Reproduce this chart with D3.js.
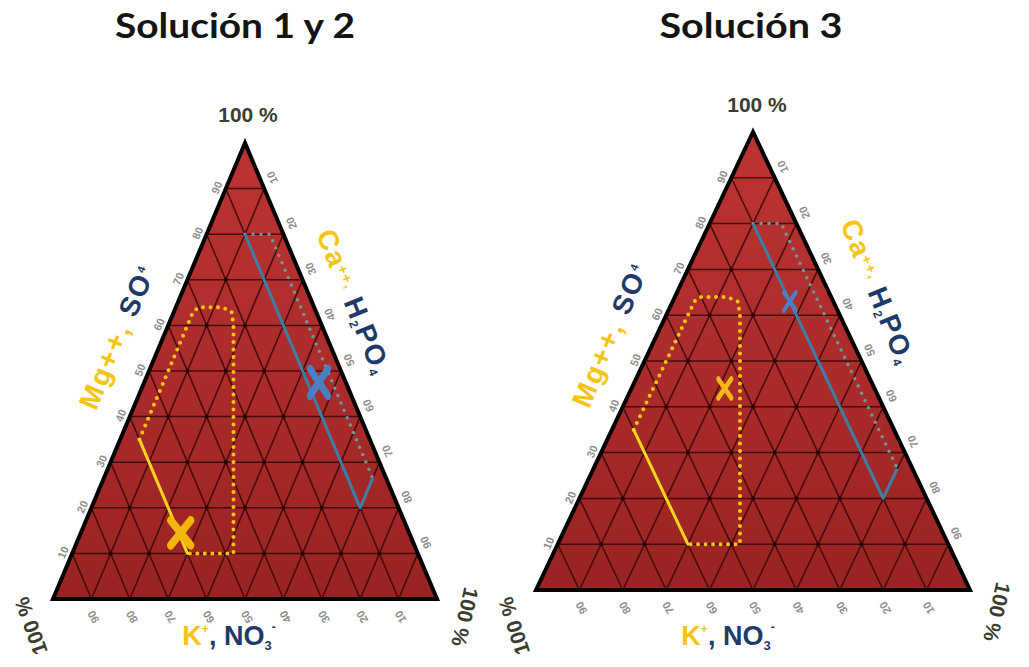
<!DOCTYPE html>
<html><head><meta charset="utf-8">
<script src="https://cdn.jsdelivr.net/npm/d3@7"></script>
<style>body{margin:0;background:#fff;} svg{display:block}</style>
</head><body>
<svg id="c" width="1029" height="667"></svg>
<script>
// ---------- data ----------
const chartTitles = ["Solución 1 y 2", "Solución 3"];
const gridValues = [10, 20, 30, 40, 50, 60, 70, 80, 90];
const tickLabels = ["10", "20", "30", "40", "50", "60", "70", "80", "90"];
const cornerLabel = "100 %";
// ternary points: [Mg++/SO4, K+/NO3-, Ca++/H2PO4] in %
const yellowSolid = [[10, 60, 30], [35, 60, 5]];
const yellowDotted = [[35, 60, 5], [63, 32, 5], [64, 30, 6], [64, 24, 12], [63, 22, 15], [60, 23, 17], [10, 48, 42], [10, 60, 30]];
const blueSolid = [[26.5, 3.5, 70], [20, 10, 70], [80, 10, 10]];
const blueDotted = [[80, 10, 10], [80, 3.5, 16.5], [26.5, 3.5, 70]];
const yellowMarks = [[14.5, 59.5, 26], [44, 34.5, 21.5]];
const blueMarks = [[47.5, 7, 45.5], [63, 10, 27]];

// ---------- layout ----------
const layouts = [
  {bx: 53, w: 384, by: 599, h: 456, titleX: 235, titleW: 240, topX: 248, topY: 122,
   blc: [31, 626, -110], brc: [465, 617, 103], leftT: [117, 337], rightT: [354, 302], botT: [229, 645], big: true},
  {bx: 536, w: 434, by: 590, h: 458, titleX: 751, titleW: 183, topX: 757, topY: 112,
   blc: [514, 626, -108], brc: [997, 612, 103], leftT: [610, 335], rightT: [878, 292], botT: [728, 645], big: false}
];

const GOLD = "#f5c414", NAVY = "#1f3a68";
const svg = d3.select("#c");
const defs = svg.append("defs");
const grad = defs.append("linearGradient").attr("id", "tri").attr("x1", 0).attr("y1", 0).attr("x2", 0).attr("y2", 1);
grad.append("stop").attr("offset", "0%").attr("stop-color", "#bb3432");
grad.append("stop").attr("offset", "55%").attr("stop-color", "#aa2b2a");
grad.append("stop").attr("offset", "100%").attr("stop-color", "#982322");

const FONT = "'Liberation Sans', Arial, sans-serif";

layouts.forEach((L, i) => {
  const g = svg.append("g");
  const x = d3.scaleLinear().domain([0, 100]).range([L.bx, L.bx + L.w]);
  const y = d3.scaleLinear().domain([0, 100]).range([L.by, L.by - L.h]);
  const px = p => [x(p[2] + p[0] / 2), y(p[0])];
  const line = d3.line().x(p => px(p)[0]).y(p => px(p)[1]);

  // title
  g.append("text").attr("x", L.titleX).attr("y", 38).attr("text-anchor", "middle")
    .attr("font-family", "Lato, 'Open Sans', sans-serif").attr("font-weight", 700)
    .attr("font-size", 34).attr("fill", "#141414")
    .attr("textLength", L.titleW).attr("lengthAdjust", "spacingAndGlyphs").text(chartTitles[i]);

  const corners = [[100, 0, 0], [0, 100, 0], [0, 0, 100]];
  g.append("path").attr("d", line(corners) + "Z").attr("fill", "url(#tri)");

  // grid
  const gridG = g.append("g").attr("stroke", "#330505").attr("stroke-opacity", 0.85).attr("stroke-width", 1.5).attr("fill", "none");
  gridValues.forEach(k => {
    gridG.append("path").attr("d", line([[k, 100 - k, 0], [k, 0, 100 - k]]));
    gridG.append("path").attr("d", line([[0, k, 100 - k], [100 - k, k, 0]]));
    gridG.append("path").attr("d", line([[0, 100 - k, k], [100 - k, 0, k]]));
  });
  const pts = [];
  gridValues.forEach(a => gridValues.forEach(b => { const c = 100 - a - b; if (c >= 10) pts.push([a, b, c]); }));
  g.append("g").selectAll("circle").data(pts).join("circle")
    .attr("cx", p => px(p)[0]).attr("cy", p => px(p)[1]).attr("r", 2).attr("fill", "#250303");

  g.append("path").attr("d", line(corners) + "Z").attr("fill", "none")
    .attr("stroke", "#000").attr("stroke-width", 4).attr("stroke-linejoin", "miter");

  // regions
  g.append("path").attr("d", line(blueDotted)).attr("fill", "none").attr("stroke", "#6a9a9c")
    .attr("stroke-width", 3.5).attr("stroke-dasharray", "0,8").attr("stroke-linecap", "round");
  g.append("path").attr("d", line(blueSolid)).attr("fill", "none").attr("stroke", "#3c7fa6")
    .attr("stroke-width", 3).attr("stroke-linejoin", "round");
  g.append("path").attr("d", line(yellowDotted)).attr("fill", "none").attr("stroke", GOLD)
    .attr("stroke-width", 4).attr("stroke-dasharray", "0,7.5").attr("stroke-linecap", "round");
  g.append("path").attr("d", line(yellowSolid)).attr("fill", "none").attr("stroke", "#f7d51c")
    .attr("stroke-width", 3).attr("stroke-linecap", "round");

  // markers
  const sym = r => d3.symbol().type(d3.symbolX).size(Math.pow(r / 0.6189, 2) + 1.7)();
  const ym = px(yellowMarks[i]), bm = px(blueMarks[i]);
  g.append("path").attr("d", sym(L.big ? 10 : 6.5))
    .attr("transform", `translate(${ym[0]},${ym[1]}) scale(1,${L.big ? 1.25 : 1.45})`)
    .attr("fill", "none").attr("stroke", L.big ? "#f5b50f" : "#f2b81a").attr("stroke-width", L.big ? 7 : 4).attr("stroke-linecap", "round");
  g.append("path").attr("d", sym(L.big ? 9 : 6))
    .attr("transform", `translate(${bm[0]},${bm[1]}) scale(1,1.5)`)
    .attr("fill", "none").attr("stroke", "#4a7fc6").attr("stroke-width", L.big ? 6 : 3.5).attr("stroke-linecap", "round");

  // tick labels
  const tl = g.append("g").attr("font-family", FONT).attr("font-weight", 700).attr("font-size", 11)
    .attr("fill", "#8e8e8e").attr("text-anchor", "middle");
  gridValues.forEach((k, j) => {
    const l = px([k, 100 - k, 0]);
    tl.append("text").attr("transform", `translate(${l[0] - 9},${l[1] - 1}) rotate(-67)`).attr("dy", "0.35em").text(tickLabels[j]);
    const r = px([100 - k, 0, k]);
    tl.append("text").attr("transform", `translate(${r[0] + 8},${r[1] - 11}) rotate(-113)`).attr("dy", "0.35em").text(tickLabels[j]);
    const b = px([0, k, 100 - k]);
    tl.append("text").attr("transform", `translate(${b[0] + 2},${b[1] + 18}) rotate(-120)`).attr("dy", "0.35em").text(tickLabels[j]);
  });

  // corner labels
  const cl = g.append("g").attr("font-family", FONT).attr("font-weight", 700).attr("font-size", 21)
    .attr("fill", "#3c3c30").attr("text-anchor", "middle");
  cl.append("text").attr("x", L.topX).attr("y", L.topY).text(cornerLabel);
  cl.append("text").attr("transform", `translate(${L.blc[0]},${L.blc[1]}) rotate(${L.blc[2]})`).attr("dy", "0.35em").text(cornerLabel);
  cl.append("text").attr("transform", `translate(${L.brc[0]},${L.brc[1]}) rotate(${L.brc[2]})`).attr("dy", "0.35em").text(cornerLabel);

  // axis titles
  const at = g.append("g").attr("font-family", FONT).attr("font-weight", 700).attr("font-size", 28);
  const lt = at.append("text").attr("transform", `translate(${L.leftT[0]},${L.leftT[1]}) rotate(-67)`)
    .attr("text-anchor", "middle").attr("dy", "0.35em").attr("letter-spacing", 2);
  lt.append("tspan").attr("fill", GOLD).text("Mg++, ");
  lt.append("tspan").attr("fill", NAVY).text("SO");
  lt.append("tspan").attr("fill", NAVY).attr("font-size", 11).attr("dy", -10).text("4");

  const rt = at.append("text").attr("transform", `translate(${L.rightT[0]},${L.rightT[1]}) rotate(68)`)
    .attr("text-anchor", "middle").attr("dy", "0.35em").attr("letter-spacing", 1.5);
  rt.append("tspan").attr("fill", GOLD).text("Ca");
  rt.append("tspan").attr("fill", GOLD).attr("font-size", 14).attr("dy", -7).text("++,");
  rt.append("tspan").attr("fill", NAVY).attr("dy", 7).text(" H");
  rt.append("tspan").attr("fill", NAVY).attr("font-size", 12).attr("dy", 3).text("2");
  rt.append("tspan").attr("fill", NAVY).attr("dy", -3).text("PO");
  rt.append("tspan").attr("fill", NAVY).attr("font-size", 12).attr("dy", 3).text("4");

  const bt = at.append("text").attr("x", L.botT[0]).attr("y", L.botT[1]).attr("text-anchor", "middle").attr("font-size", 27);
  bt.append("tspan").attr("fill", GOLD).text("K");
  bt.append("tspan").attr("fill", GOLD).attr("font-size", 12).attr("dy", -12).text("+");
  bt.append("tspan").attr("fill", NAVY).attr("dy", 12).text(", NO");
  bt.append("tspan").attr("fill", NAVY).attr("font-size", 13).attr("dy", 5).text("3");
  bt.append("tspan").attr("fill", NAVY).attr("font-size", 12).attr("dy", -19).text("-");
});
</script>
</body></html>
